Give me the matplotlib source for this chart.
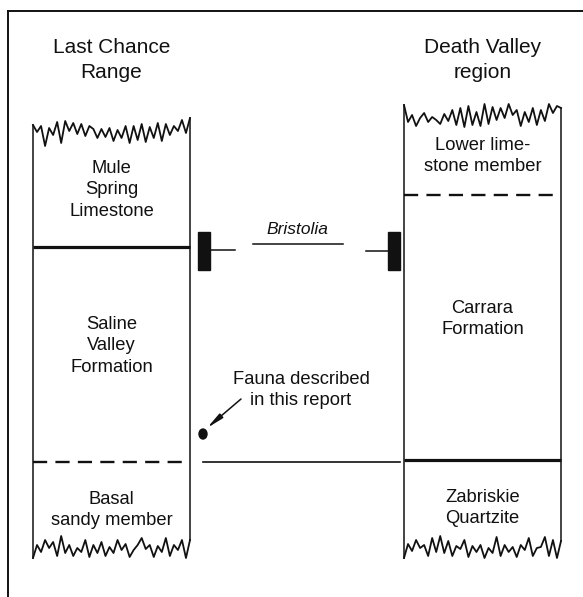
import numpy as np
import matplotlib.pyplot as plt
from matplotlib.patches import Rectangle, Ellipse

plt.rcParams['font.family'] = ['Liberation Sans', 'DejaVu Sans']

# -------------------------------------------------------
# DATA (pixel units, origin top-left)
# -------------------------------------------------------
W, H = 583, 597

# column edges
left_col = (33, 190)
right_col = (404, 561)

# headings
headings = ["Last Chance\nRange", "Death Valley\nregion"]

# unit boundaries: (y, style)
left_bounds = [(247, "thick"), (462, "dashed")]
right_bounds = [(195, "dashed"), (460, "thick")]

# unit labels: (text, y centre)
left_units = [("Mule\nSpring\nLimestone", 190),
              ("Saline\nValley\nFormation", 346),
              ("Basal\nsandy member", 510)]
right_units = [("Lower lime-\nstone member", 156),
               ("Carrara\nFormation", 319),
               ("Zabriskie\nQuartzite", 508)]

# ragged (erosional) tops and bottoms, y
left_top = [125, 132, 126, 146, 128, 135, 122, 143, 121, 131, 123, 134, 124, 136,
            126, 129, 138, 129, 137, 128, 141, 130, 138, 126, 143, 126, 140, 124,
            142, 127, 138, 123, 141, 124, 135, 126, 131, 120, 133, 118]
right_top = [105, 122, 115, 126, 118, 113, 122, 117, 120, 124, 114, 121, 110, 125,
             108, 127, 106, 125, 112, 126, 104, 124, 107, 120, 108, 118, 104, 115,
             110, 126, 112, 122, 108, 125, 110, 121, 104, 113, 106, 108]
left_bot = [558, 545, 552, 540, 548, 542, 556, 536, 553, 545, 556, 548, 552, 540,
            557, 545, 553, 542, 556, 547, 553, 540, 550, 544, 557, 550, 545, 538,
            549, 545, 557, 546, 552, 538, 556, 545, 550, 540, 558, 540]
right_bot = [558, 544, 551, 540, 548, 545, 556, 538, 552, 536, 553, 541, 556, 546,
             549, 540, 557, 546, 552, 545, 558, 548, 553, 537, 556, 545, 552, 547,
             557, 545, 550, 538, 556, 548, 547, 537, 556, 540, 558, 541]

# -------------------------------------------------------
# PLOT
# -------------------------------------------------------
fig = plt.figure(figsize=(W / 100, H / 100), dpi=100)
ax = fig.add_axes([0, 0, 1, 1])
ax.set_xlim(0, W)
ax.set_ylim(H, 0)
ax.axis("off")

k = "#111111"

# outer frame (left and top only visible)
ax.plot([8, 8], [597, 11], color=k, lw=1.4)
ax.plot([8, 583], [11, 11], color=k, lw=1.4)


def draw_column(col, top, bot, bounds, units, heading, head_y):
    x0, x1 = col
    xs = np.linspace(x0, x1, len(top))
    ax.plot(xs, top, color=k, lw=1.3)
    xs = np.linspace(x0, x1, len(bot))
    ax.plot(xs, bot, color=k, lw=1.3)
    ax.plot([x0, x0], [top[0], bot[0]], color=k, lw=1.1)
    ax.plot([x1, x1], [top[-1], bot[-1]], color=k, lw=1.1)
    for y, style in bounds:
        if style == "thick":
            ax.plot([x0, x1], [y, y], color=k, lw=2.3, solid_capstyle="butt")
        else:
            ax.plot([x0, x1], [y, y], color=k, lw=1.7, dashes=(6, 3.5))
    cx = (x0 + x1) / 2
    for text, y in units:
        ax.text(cx, y, text, ha="center", va="center", fontsize=13.2,
                color=k, linespacing=1.36)
    ax.text(cx, head_y, heading, ha="center", va="center", fontsize=15,
            color=k, linespacing=1.38)


draw_column(left_col, left_top, left_bot, left_bounds, left_units,
            headings[0], 60)
draw_column(right_col, right_top, right_bot, right_bounds, right_units,
            headings[1], 60)

# Bristolia range markers
ax.add_patch(Rectangle((198, 232), 12, 38, color=k))
ax.add_patch(Rectangle((388, 232), 12, 38, color=k))
ax.plot([210, 235], [250, 250], color=k, lw=1.1)
ax.plot([366, 388], [251, 251], color=k, lw=1.1)
ax.text(297, 229, "Bristolia", ha="center", va="center", fontsize=12.5,
        style="italic", color=k)
ax.plot([253, 343], [244, 244], color=k, lw=1.1)

# fauna locality
ax.add_patch(Ellipse((203, 434), 8, 10, color=k))
ax.annotate("", xy=(207, 428), xytext=(241, 399),
            arrowprops=dict(arrowstyle="-|>,head_length=1.0,head_width=0.16",
                            color=k, lw=1.1, shrinkA=0, shrinkB=0))
ax.text(301, 390, "Fauna described\nin this report", ha="center", va="center",
        fontsize=13.2, color=k, linespacing=1.3)

# correlation line
ax.plot([203, 400], [462, 462], color=k, lw=1.2)

fig.savefig("out.png", dpi=100)
